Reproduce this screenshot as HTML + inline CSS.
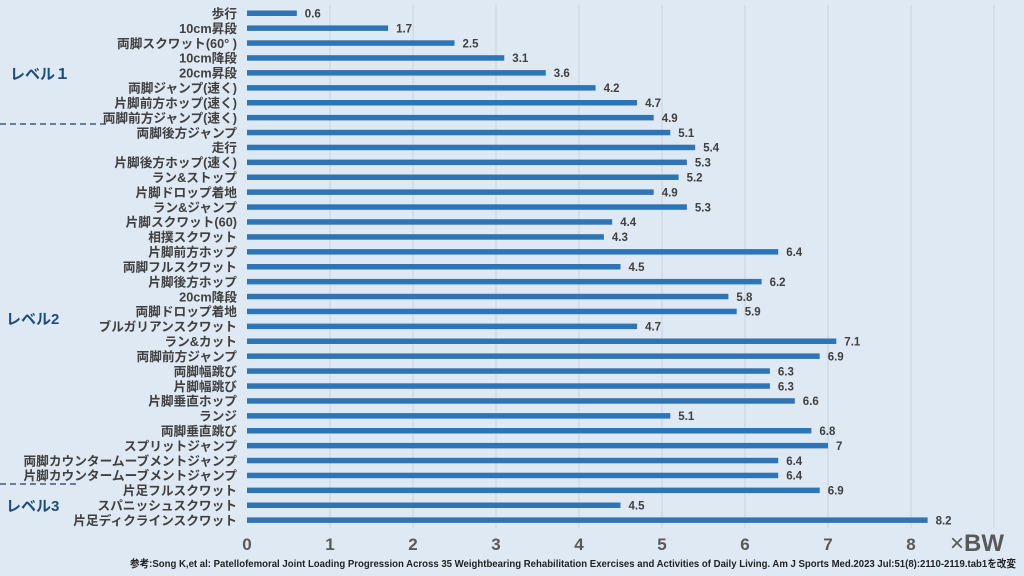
<!DOCTYPE html>
<html><head><meta charset="utf-8"><style>
html,body{margin:0;padding:0;background:#dfe9f4;}
svg{display:block;}
text{font-family:"Liberation Sans","Noto Sans CJK JP",sans-serif;font-weight:bold;}
</style></head><body>
<svg width="1024" height="576" viewBox="0 0 1024 576" xmlns="http://www.w3.org/2000/svg">
<rect width="1024" height="576" fill="#dfe9f4"/>
<g stroke="#c9d3de" stroke-width="1">
<line x1="330" y1="5" x2="330" y2="528"/><line x1="413" y1="5" x2="413" y2="528"/><line x1="496" y1="5" x2="496" y2="528"/><line x1="579" y1="5" x2="579" y2="528"/><line x1="662" y1="5" x2="662" y2="528"/><line x1="745" y1="5" x2="745" y2="528"/><line x1="828" y1="5" x2="828" y2="528"/><line x1="911" y1="5" x2="911" y2="528"/><line x1="994" y1="5" x2="994" y2="528"/>
</g>
<g stroke="#1f3f66" stroke-width="1.2" stroke-dasharray="6,4">
<line x1="0" y1="124" x2="110" y2="124"/>
<line x1="0" y1="484" x2="80" y2="484"/>
</g>
<g fill="#1f4e79" font-size="15">
<text x="10" y="79">レベル１</text>
<text x="6" y="324">レベル2</text>
<text x="6" y="511">レベル3</text>
</g>
<g fill="#2e75b6">
<rect x="247" y="10.5" width="49.8" height="5.5"/>
<rect x="247" y="25.4" width="141.1" height="5.5"/>
<rect x="247" y="40.3" width="207.5" height="5.5"/>
<rect x="247" y="55.2" width="257.3" height="5.5"/>
<rect x="247" y="70.1" width="298.8" height="5.5"/>
<rect x="247" y="85.1" width="348.6" height="5.5"/>
<rect x="247" y="100" width="390.1" height="5.5"/>
<rect x="247" y="114.9" width="406.7" height="5.5"/>
<rect x="247" y="129.8" width="423.3" height="5.5"/>
<rect x="247" y="144.7" width="448.2" height="5.5"/>
<rect x="247" y="159.6" width="439.9" height="5.5"/>
<rect x="247" y="174.5" width="431.6" height="5.5"/>
<rect x="247" y="189.4" width="406.7" height="5.5"/>
<rect x="247" y="204.3" width="439.9" height="5.5"/>
<rect x="247" y="219.2" width="365.2" height="5.5"/>
<rect x="247" y="234.2" width="356.9" height="5.5"/>
<rect x="247" y="249.1" width="531.2" height="5.5"/>
<rect x="247" y="264" width="373.5" height="5.5"/>
<rect x="247" y="278.9" width="514.6" height="5.5"/>
<rect x="247" y="293.8" width="481.4" height="5.5"/>
<rect x="247" y="308.7" width="489.7" height="5.5"/>
<rect x="247" y="323.6" width="390.1" height="5.5"/>
<rect x="247" y="338.5" width="589.3" height="5.5"/>
<rect x="247" y="353.4" width="572.7" height="5.5"/>
<rect x="247" y="368.3" width="522.9" height="5.5"/>
<rect x="247" y="383.3" width="522.9" height="5.5"/>
<rect x="247" y="398.2" width="547.8" height="5.5"/>
<rect x="247" y="413.1" width="423.3" height="5.5"/>
<rect x="247" y="428" width="564.4" height="5.5"/>
<rect x="247" y="442.9" width="581" height="5.5"/>
<rect x="247" y="457.8" width="531.2" height="5.5"/>
<rect x="247" y="472.7" width="531.2" height="5.5"/>
<rect x="247" y="487.6" width="572.7" height="5.5"/>
<rect x="247" y="502.5" width="373.5" height="5.5"/>
<rect x="247" y="517.4" width="680.6" height="5.5"/>
</g>
<g fill="#404040" font-size="12.7" text-anchor="end">
<text x="237" y="18">歩行</text>
<text x="237" y="32.9">10cm昇段</text>
<text x="237" y="47.8">両脚スクワット(60°  )</text>
<text x="237" y="62.7">10cm降段</text>
<text x="237" y="77.6">20cm昇段</text>
<text x="237" y="92.6">両脚ジャンプ(速く)</text>
<text x="237" y="107.5">片脚前方ホップ(速く)</text>
<text x="237" y="122.4">両脚前方ジャンプ(速く)</text>
<text x="237" y="137.3">両脚後方ジャンプ</text>
<text x="237" y="152.2">走行</text>
<text x="237" y="167.1">片脚後方ホップ(速く)</text>
<text x="237" y="182">ラン&amp;ストップ</text>
<text x="237" y="196.9">片脚ドロップ着地</text>
<text x="237" y="211.8">ラン&amp;ジャンプ</text>
<text x="237" y="226.7">片脚スクワット(60)</text>
<text x="237" y="241.7">相撲スクワット</text>
<text x="237" y="256.6">片脚前方ホップ</text>
<text x="237" y="271.5">両脚フルスクワット</text>
<text x="237" y="286.4">片脚後方ホップ</text>
<text x="237" y="301.3">20cm降段</text>
<text x="237" y="316.2">両脚ドロップ着地</text>
<text x="237" y="331.1">ブルガリアンスクワット</text>
<text x="237" y="346">ラン&amp;カット</text>
<text x="237" y="360.9">両脚前方ジャンプ</text>
<text x="237" y="375.8">両脚幅跳び</text>
<text x="237" y="390.8">片脚幅跳び</text>
<text x="237" y="405.7">片脚垂直ホップ</text>
<text x="237" y="420.6">ランジ</text>
<text x="237" y="435.5">両脚垂直跳び</text>
<text x="237" y="450.4">スプリットジャンプ</text>
<text x="237" y="465.3">両脚カウンタームーブメントジャンプ</text>
<text x="237" y="480.2">片脚カウンタームーブメントジャンプ</text>
<text x="237" y="495.1">片足フルスクワット</text>
<text x="237" y="510">スパニッシュスクワット</text>
<text x="237" y="524.9">片足ディクラインスクワット</text>
</g>
<g fill="#404040" font-size="11.5">
<text x="304.8" y="17.5">0.6</text>
<text x="396.1" y="32.4">1.7</text>
<text x="462.5" y="47.3">2.5</text>
<text x="512.3" y="62.2">3.1</text>
<text x="553.8" y="77.1">3.6</text>
<text x="603.6" y="92.1">4.2</text>
<text x="645.1" y="107">4.7</text>
<text x="661.7" y="121.9">4.9</text>
<text x="678.3" y="136.8">5.1</text>
<text x="703.2" y="151.7">5.4</text>
<text x="694.9" y="166.6">5.3</text>
<text x="686.6" y="181.5">5.2</text>
<text x="661.7" y="196.4">4.9</text>
<text x="694.9" y="211.3">5.3</text>
<text x="620.2" y="226.2">4.4</text>
<text x="611.9" y="241.2">4.3</text>
<text x="786.2" y="256.1">6.4</text>
<text x="628.5" y="271">4.5</text>
<text x="769.6" y="285.9">6.2</text>
<text x="736.4" y="300.8">5.8</text>
<text x="744.7" y="315.7">5.9</text>
<text x="645.1" y="330.6">4.7</text>
<text x="844.3" y="345.5">7.1</text>
<text x="827.7" y="360.4">6.9</text>
<text x="777.9" y="375.3">6.3</text>
<text x="777.9" y="390.3">6.3</text>
<text x="802.8" y="405.2">6.6</text>
<text x="678.3" y="420.1">5.1</text>
<text x="819.4" y="435">6.8</text>
<text x="836" y="449.9">7</text>
<text x="786.2" y="464.8">6.4</text>
<text x="786.2" y="479.7">6.4</text>
<text x="827.7" y="494.6">6.9</text>
<text x="628.5" y="509.5">4.5</text>
<text x="935.6" y="524.4">8.2</text>
</g>
<g fill="#595959" font-size="17" text-anchor="middle">
<text x="247" y="550">0</text><text x="330" y="550">1</text><text x="413" y="550">2</text><text x="496" y="550">3</text><text x="579" y="550">4</text><text x="662" y="550">5</text><text x="745" y="550">6</text><text x="828" y="550">7</text><text x="911" y="550">8</text>
</g>
<text x="950" y="551" fill="#595959" font-size="24"><tspan font-weight="normal">×</tspan>BW</text>
<text x="130" y="567" fill="#222" font-size="10.5" textLength="886" lengthAdjust="spacingAndGlyphs">参考:Song K,et al: Patellofemoral Joint Loading Progression Across 35 Weightbearing Rehabilitation Exercises and Activities of Daily Living. Am J Sports Med.2023 Jul:51(8):2110-2119.tab1を改変</text>
</svg>
</body></html>
